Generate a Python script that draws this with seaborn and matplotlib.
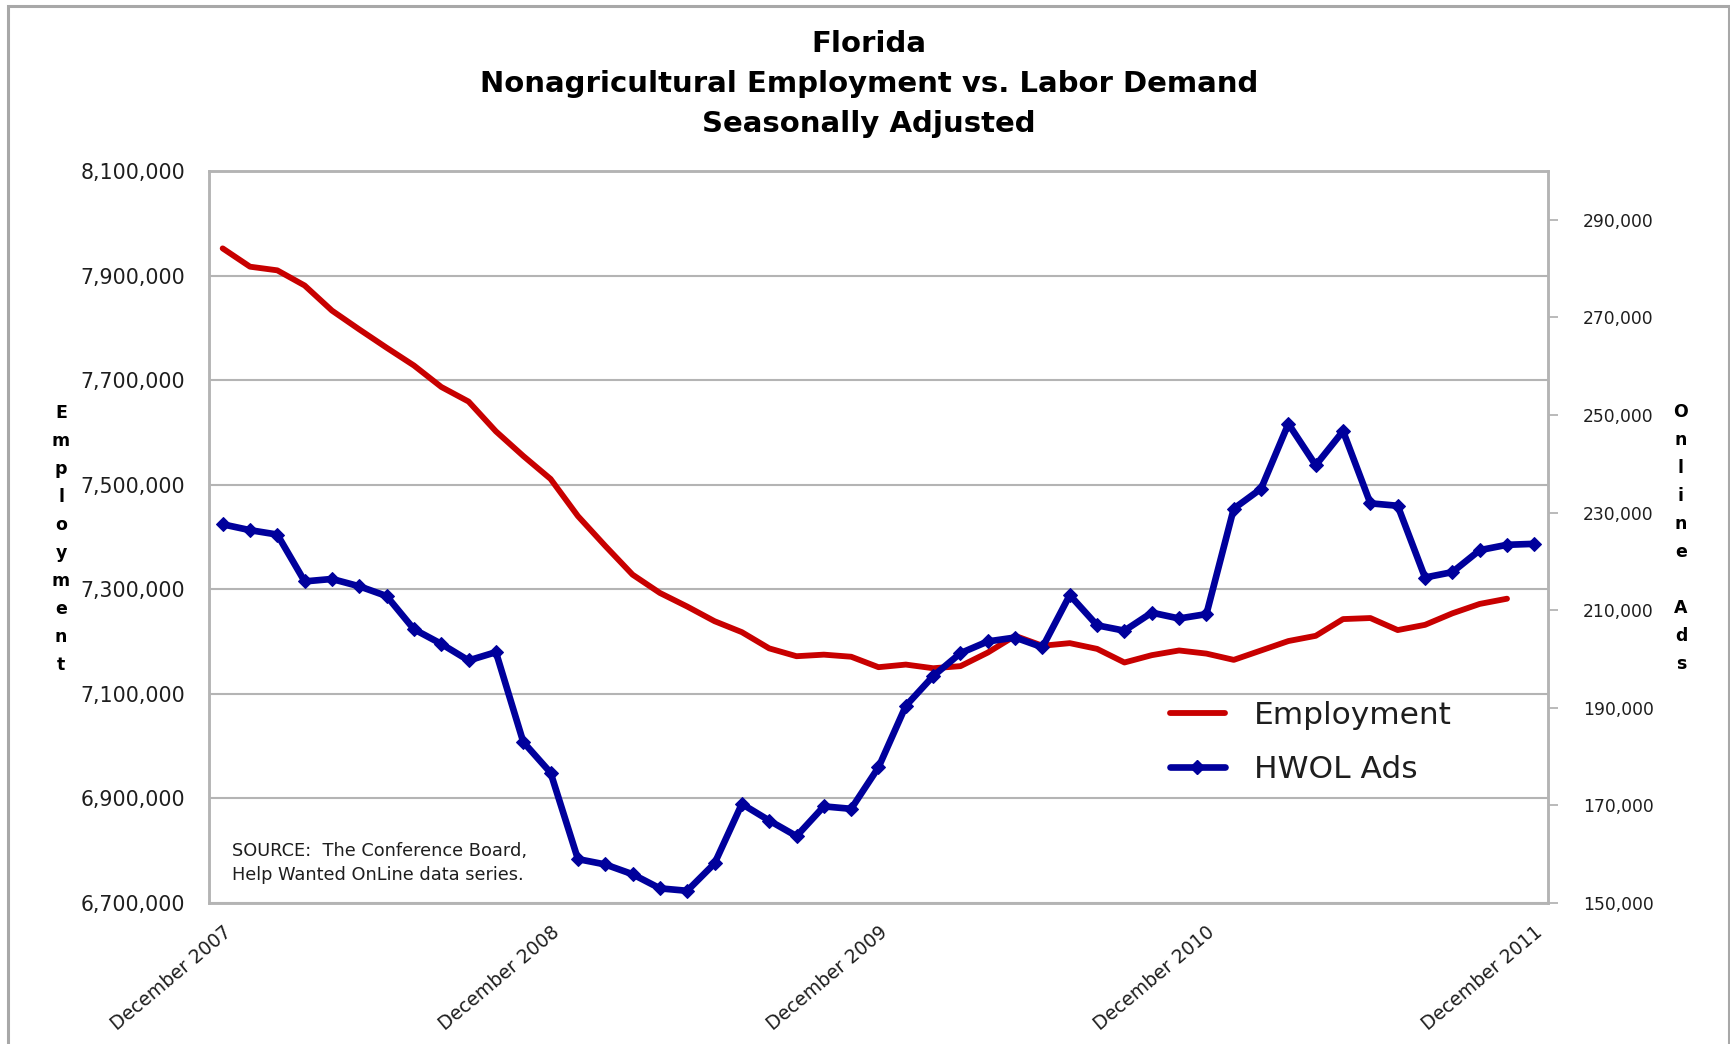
import matplotlib
matplotlib.use("Agg")
import matplotlib.pyplot as plt
from matplotlib.patches import Rectangle
from matplotlib.lines import Line2D
from matplotlib.ticker import FixedLocator, StrMethodFormatter
import numpy as np
import pandas as pd
import seaborn as sns

# ---------------- data ----------------
months = pd.date_range("2007-12-01", periods=49, freq="MS").strftime("%B %Y").tolist()

employment = [
    7952000, 7917000, 7910000, 7881000, 7833000, 7797000, 7762000, 7728000,
    7687000, 7659000, 7602000, 7555000, 7511000, 7440000, 7383000, 7328000,
    7293000, 7267000, 7239000, 7218000, 7187000, 7172000, 7175000, 7171000,
    7151000, 7156000, 7149000, 7153000, 7179000, 7211000, 7192000, 7197000,
    7186000, 7160000, 7174000, 7183000, 7177000, 7165000, 7183000, 7201000,
    7211000, 7243000, 7245000, 7222000, 7232000, 7254000, 7272000, 7282000,
]

hwol_ads = [
    227600, 226400, 225500, 215900, 216400, 214900, 212900, 206100,
    203100, 199700, 201400, 183000, 176700, 159000, 157900, 155900,
    153000, 152500, 158100, 170300, 166900, 163700, 169800, 169300,
    177800, 190400, 196500, 201200, 203600, 204400, 202400, 213100,
    206900, 205800, 209500, 208300, 209200, 230800, 234900, 248200,
    239700, 246700, 231900, 231400, 216700, 217800, 222300, 223400,
    223600,
]

tick_labels = ["December 2007", "December 2008", "December 2009",
               "December 2010", "December 2011"]
left_ticks = [6700000, 6900000, 7100000, 7300000, 7500000, 7700000, 7900000, 8100000]
right_ticks = [150000, 170000, 190000, 210000, 230000, 250000, 270000, 290000]

title_text = "Florida\nNonagricultural Employment vs. Labor Demand\nSeasonally Adjusted"
source_text = "SOURCE:  The Conference Board,\nHelp Wanted OnLine data series."

# ---------------- style ----------------
sns.set_style("white")
plt.rcParams["font.family"] = ["DejaVu Sans"]

RED = "#C80000"
BLUE = "#00009C"
GRID = "#B4B4B4"
TXT = "#1E1E1E"

W, H = 1731, 1044
fig = plt.figure(figsize=(W / 100, H / 100), dpi=100)
fig.patch.set_facecolor("white")

# outer chart border
fig.patches.append(Rectangle((8 / W, -0.02), (1729 - 8) / W, (1044 - 6) / H + 0.02,
                             transform=fig.transFigure, fill=False,
                             edgecolor="#A8A8A8", linewidth=2.2, zorder=0))

left, right, top, bottom = 209, 1548, 171, 903
ax = fig.add_axes([left / W, (H - bottom) / H, (right - left) / W, (bottom - top) / H])
ax2 = ax.twinx()

df_emp = pd.DataFrame({"idx": np.arange(len(employment)), "value": employment})
df_ads = pd.DataFrame({"idx": np.arange(len(hwol_ads)), "value": hwol_ads})

sns.lineplot(data=df_emp, x="idx", y="value", ax=ax, color=RED, linewidth=4.2,
             legend=False, zorder=3)
sns.lineplot(data=df_ads, x="idx", y="value", ax=ax2, color=BLUE, linewidth=4.8,
             marker="D", markersize=7.5, markeredgecolor=BLUE, markerfacecolor=BLUE,
             legend=False, zorder=4)

ax.set_xlim(-0.5, len(months) - 0.5)
ax.set_ylim(6700000, 8100000)
ax2.set_ylim(150000, 300000)

ax.yaxis.set_major_locator(FixedLocator(left_ticks))
ax.yaxis.set_major_formatter(StrMethodFormatter("{x:,.0f}"))
ax2.yaxis.set_major_locator(FixedLocator(right_ticks))
ax2.yaxis.set_major_formatter(StrMethodFormatter("{x:,.0f}"))

tick_pos = [months.index(t) for t in tick_labels]
ax.set_xticks(tick_pos)
ax.set_xticklabels(tick_labels, rotation=40, ha="right", va="top",
                   rotation_mode="anchor", fontsize=13.5, color=TXT)
ax.tick_params(axis="x", length=0, pad=14)
ax.tick_params(axis="y", length=0, pad=17, labelsize=14.8, labelcolor=TXT)
ax2.tick_params(axis="y", direction="out", length=7, width=1.3, color=GRID,
                pad=18, labelsize=12.3, labelcolor=TXT)

ax.grid(axis="y", color=GRID, linewidth=1.5)
ax.grid(axis="x", visible=False)
ax2.grid(False)
ax.set_axisbelow(True)
for a in (ax, ax2):
    for s in a.spines.values():
        s.set_visible(True)
        s.set_color(GRID)
        s.set_linewidth(1.8)
ax.patch.set_visible(False)

ax.set_xlabel("")
ax.set_ylabel("\n".join("Employment"), rotation=0, fontsize=12.5, fontweight="bold",
              ha="center", va="center", linespacing=1.72, color="black")
ax.yaxis.set_label_coords((61 - left) / (right - left), (bottom - 539) / (bottom - top))
ax2.set_ylabel("O\nn\nl\ni\nn\ne\n \nA\nd\ns", rotation=0, fontsize=12.5,
               fontweight="bold", ha="center", va="center", linespacing=1.72,
               color="black")
ax2.yaxis.set_label_coords((1681 - left) / (right - left), (bottom - 538) / (bottom - top))

fig.text(869 / W, 1 - 30 / H, title_text, ha="center", va="top", fontsize=21,
         fontweight="bold", linespacing=1.55, color="black")

ax.text((232 - left) / (right - left), (bottom - 863) / (bottom - top), source_text,
        transform=ax.transAxes, ha="left", va="center", fontsize=12.8, color=TXT,
        linespacing=1.4)

handles = [Line2D([], [], color=RED, linewidth=4.2, solid_capstyle="round"),
           Line2D([], [], color=BLUE, linewidth=4.8, marker="D", markersize=7.5,
                  solid_capstyle="round")]
leg = ax2.legend(handles, ["Employment", "HWOL Ads"], loc="upper left",
                 bbox_to_anchor=((1170 - left) / (right - left), (bottom - 701) / (bottom - top)),
                 frameon=False, fontsize=22.5, handlelength=1.75, handletextpad=0.95,
                 labelspacing=0.8, borderpad=0, borderaxespad=0)
for t in leg.get_texts():
    t.set_color(TXT)

fig.savefig("out.png", dpi=100, facecolor="white")
